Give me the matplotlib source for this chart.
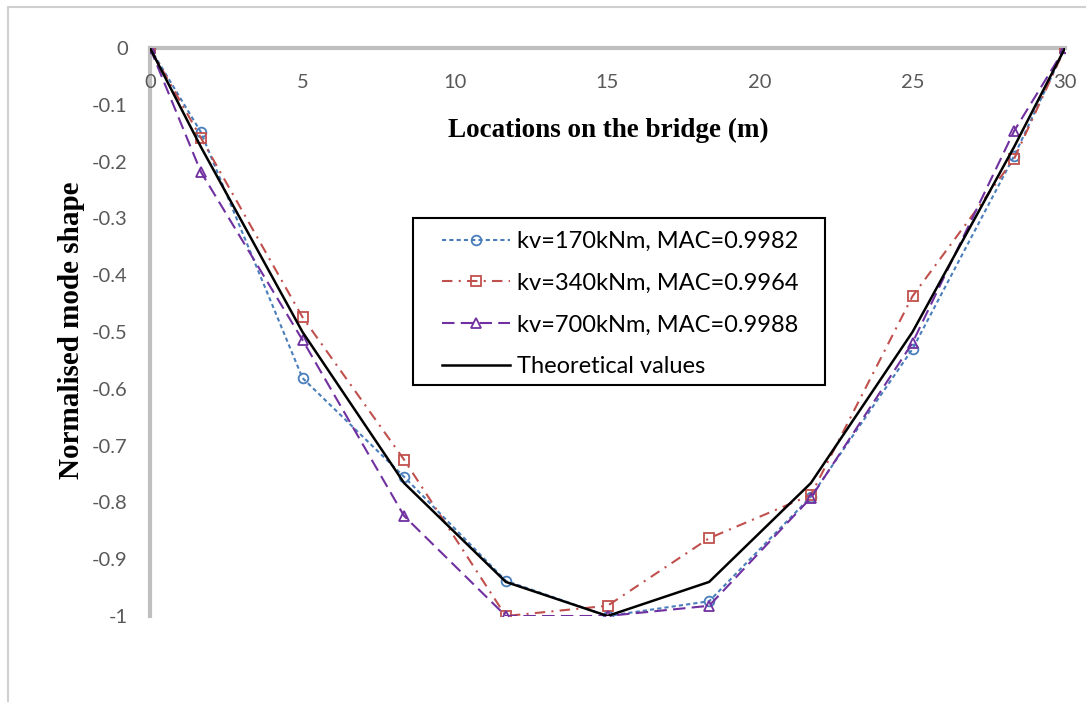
import matplotlib
matplotlib.use("Agg")
import matplotlib.pyplot as plt
from matplotlib.patches import Rectangle

x = [0, 1.667, 5, 8.333, 11.667, 15, 18.333, 21.667, 25, 28.333, 30]
kv170 = [0, -0.148, -0.581, -0.755, -0.938, -1.0, -0.974, -0.790, -0.530, -0.190, 0]
kv340 = [0, -0.158, -0.474, -0.725, -1.0, -0.982, -0.863, -0.787, -0.437, -0.195, 0]
kv700 = [0, -0.218, -0.514, -0.824, -1.0, -1.0, -0.982, -0.792, -0.519, -0.146, 0]
theory = [0, -0.174, -0.5, -0.766, -0.940, -1.0, -0.940, -0.766, -0.5, -0.174, 0]

labels = ["kv=170kNm, MAC=0.9982", "kv=340kNm, MAC=0.9964",
          "kv=700kNm, MAC=0.9988", "Theoretical values"]
xticks = [0, 5, 10, 15, 20, 25, 30]
yticks = [0, -0.1, -0.2, -0.3, -0.4, -0.5, -0.6, -0.7, -0.8, -0.9, -1]

W, H = 1086, 702
fig = plt.figure(figsize=(W / 100, H / 100), dpi=100)
ax = fig.add_axes([150 / W, 1 - 616 / H, (1065 - 150) / W, (616 - 48) / H])

# outer frame
fig.patches.append(Rectangle((8 / W, -0.5), 2, (H - 7) / H + 0.5, transform=fig.transFigure,
                             fill=False, edgecolor="#d0d0d0", linewidth=1.5))

ax.plot(x, kv170, color="#4a7ebb", linestyle=(0, (2, 1.5)), linewidth=1.5,
        marker="o", markersize=7, markerfacecolor="none", markeredgewidth=1.3, label=labels[0])
ax.plot(x, kv340, color="#c0504d", linestyle=(0, (5, 3, 1, 3)), linewidth=1.5,
        marker="s", markersize=7, markerfacecolor="none", markeredgewidth=1.3, label=labels[1])
ax.plot(x, kv700, color="#7030a0", linestyle=(0, (6, 3)), linewidth=1.5,
        marker="^", markersize=7, markerfacecolor="none", markeredgewidth=1.3, label=labels[2])
ax.plot(x, theory, color="black", linewidth=1.8, label=labels[3])

ax.set_xlim(0, 30)
ax.set_ylim(-1, 0)
ax.xaxis.tick_top()
ax.set_xticks(xticks)
ax.set_xticklabels([str(t) for t in xticks])
ax.set_yticks(yticks)
ax.set_yticklabels(["0" if t == 0 else ("-1" if t == -1 else f"{t:.1f}") for t in yticks])

for s in ["right", "bottom"]:
    ax.spines[s].set_visible(False)
for s in ["left", "top"]:
    ax.spines[s].set_color("#bfbfbf")
    ax.spines[s].set_linewidth(3)
    ax.spines[s].set_zorder(0.5)

ax.tick_params(axis="both", length=0, labelsize=14.5, labelcolor="#595959")
ax.tick_params(axis="x", pad=-31)
ax.tick_params(axis="y", pad=16)
for lab in ax.get_xticklabels() + ax.get_yticklabels():
    lab.set_family("Lato")

fig.text(608 / W, 1 - 130 / H, "Locations on the bridge (m)", ha="center", va="center",
         fontsize=19.5, fontweight="bold", family="Liberation Serif")
fig.text(72 / W, 1 - 330 / H, "Normalised mode shape", rotation=90, ha="center", va="center",
         fontsize=21, fontweight="bold", family="Liberation Serif")

# legend box
box = Rectangle((413 / W, 1 - 385 / H), (825 - 413) / W, (385 - 218) / H,
                transform=fig.transFigure, fill=True, facecolor="white",
                edgecolor="black", linewidth=1.5, zorder=3, clip_on=False)
ax.add_patch(box)
leg = ax.legend(loc="upper left", bbox_to_anchor=(430 / W, 1 - 219 / H),
                bbox_transform=fig.transFigure,
                prop={"family": "Lato", "size": 17}, frameon=False,
                handlelength=2.9, borderpad=0, labelspacing=0.88, handletextpad=0.3)
leg.set_zorder(4)

fig.savefig("out.png", dpi=100)
